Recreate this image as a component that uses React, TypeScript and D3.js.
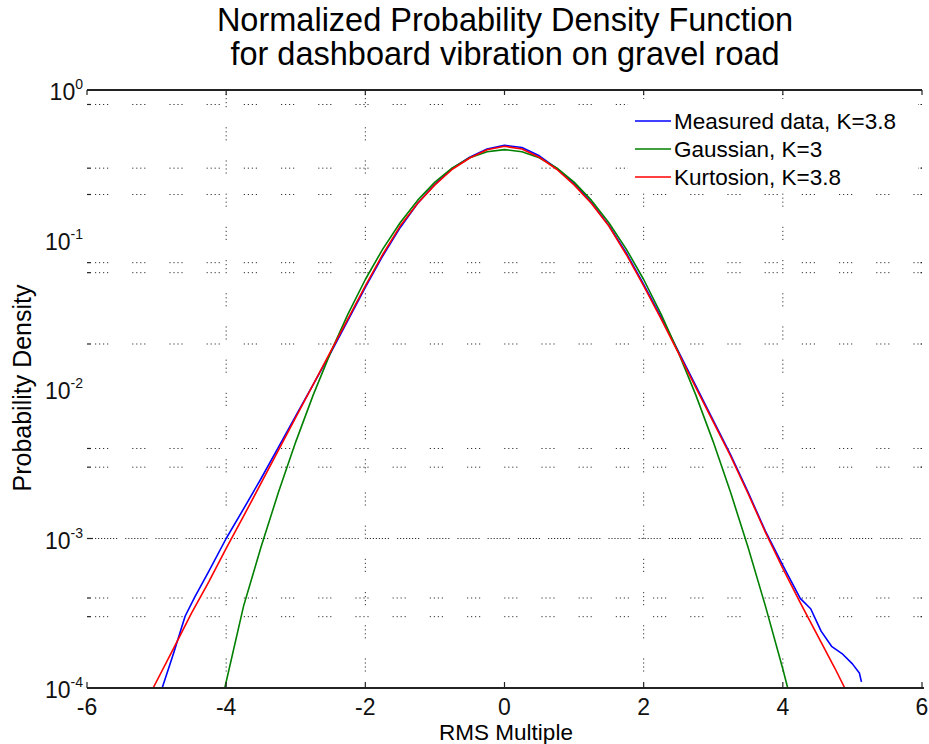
import React from 'react';
import * as d3 from 'd3';

const W = 929, H = 744;
const FONT = '"Liberation Sans", Arial, Helvetica, sans-serif';

const titleLines = ['Normalized Probability Density Function', 'for dashboard vibration on gravel road'];
const xLabel = 'RMS Multiple';
const yLabel = 'Probability Density';

const xTicks = [-6, -4, -2, 0, 2, 4, 6];
const yTickExps = [0, -1, -2, -3, -4];
const xGrid = [-4, -2, 2, 4];
const yGrid = [0.8, 0.3, 0.2, 0.07, 0.06, 0.02, 0.004, 0.003, 0.0004, 0.0003];
const yGridDense = [0.001];

const legendNames = ['Measured data, K=3.8', 'Gaussian, K=3', 'Kurtosion, K=3.8'];
const colors = ['#0000ff', '#008000', '#ff0000'];

const measuredX = [-4.92, -4.75, -4.59, -4.45, -4.25, -4.0, -3.75, -3.5, -3.25, -3.0, -2.75, -2.5, -2.25, -2.0, -1.75, -1.5, -1.25, -1.0, -0.75, -0.5, -0.25, 0, 0.25, 0.5, 0.75, 1.0, 1.25, 1.5, 1.75, 2.0, 2.25, 2.5, 2.75, 3.0, 3.25, 3.5, 3.75, 4.0, 4.25, 4.4, 4.55, 4.7, 4.85, 5.0, 5.1, 5.13];
const measuredY = [1.0e-4, 1.74e-4, 3.02e-4, 4.07e-4, 6.03e-4, 1.0e-3, 1.58e-3, 2.51e-3, 4.07e-3, 6.61e-3, 0.0107, 0.0174, 0.0288, 0.0479, 0.0776, 0.120, 0.174, 0.234, 0.299, 0.355, 0.403, 0.427, 0.412, 0.363, 0.299, 0.237, 0.176, 0.124, 0.0813, 0.0501, 0.0302, 0.0178, 0.0105, 6.17e-3, 3.63e-3, 2.04e-3, 1.12e-3, 6.6e-4, 3.98e-4, 3.39e-4, 2.4e-4, 1.9e-4, 1.7e-4, 1.45e-4, 1.26e-4, 1.1e-4];

const gaussX = [-4.02, -3.75, -3.5, -3.25, -3.0, -2.75, -2.5, -2.25, -2.0, -1.75, -1.5, -1.25, -1.0, -0.75, -0.5, -0.25, 0, 0.25, 0.5, 0.75, 1.0, 1.25, 1.5, 1.75, 2.0, 2.25, 2.5, 2.75, 3.0, 3.25, 3.5, 3.75, 4.0, 4.07];
const gaussY = [1.0e-4, 3.53e-4, 8.73e-4, 2.03e-3, 4.43e-3, 9.1e-3, 0.0175, 0.0317, 0.054, 0.0863, 0.1295, 0.1826, 0.242, 0.301, 0.352, 0.3867, 0.399, 0.3867, 0.352, 0.301, 0.242, 0.1826, 0.1295, 0.0863, 0.054, 0.0317, 0.0175, 9.1e-3, 4.43e-3, 2.03e-3, 8.73e-4, 3.53e-4, 1.34e-4, 1.0e-4];

const kurtX = [-5.05, -4.75, -4.5, -4.25, -4.0, -3.75, -3.5, -3.25, -3.0, -2.75, -2.5, -2.25, -2.0, -1.75, -1.5, -1.25, -1.0, -0.75, -0.5, -0.25, 0, 0.25, 0.5, 0.75, 1.0, 1.25, 1.5, 1.75, 2.0, 2.25, 2.5, 2.75, 3.0, 3.25, 3.5, 3.75, 4.0, 4.25, 4.5, 4.75, 4.89];
const kurtY = [1.0e-4, 1.86e-4, 3.16e-4, 5.13e-4, 8.6e-4, 1.41e-3, 2.34e-3, 3.89e-3, 6.46e-3, 0.0107, 0.0178, 0.0295, 0.049, 0.0794, 0.123, 0.174, 0.232, 0.295, 0.351, 0.398, 0.42, 0.403, 0.355, 0.295, 0.232, 0.174, 0.123, 0.0794, 0.049, 0.0295, 0.0174, 0.0102, 6.03e-3, 3.55e-3, 2.0e-3, 1.10e-3, 6.3e-4, 3.72e-4, 2.24e-4, 1.35e-4, 1.0e-4];

const seriesX = [measuredX, gaussX, kurtX];
const seriesY = [measuredY, gaussY, kurtY];

const L = 87, R = 922, T = 90, B = 688;

export default function App() {
  const x = d3.scaleLinear().domain([-6, 6]).range([L, R]);
  const y = d3.scaleLog().domain([1e-4, 1]).range([B, T]);
  const line = d3.line<[number, number]>().x(d => x(d[0])).y(d => y(d[1]));
  const hDash = '1.2,2.8,1.2,2.8,1.2,2.8,1.2,24';
  const hDense = '1.2,1.8,1.2,1.8,1.2,1.8,1.2,1.8,1.2,1.8,1.2,1.8,1.2,1.8,1.2,8';
  const vDash = '1.2,2.8,1.2,2.8,1.2,2.8,1.2,20';

  return (
    <svg width={W} height={H} style={{ position: 'absolute', left: 0, top: 0, background: '#fff' }} fontFamily={FONT}>
      <defs>
        <clipPath id="plot"><rect x={L} y={T - 2} width={R - L} height={B - T + 2} /></clipPath>
      </defs>
      <rect x={0} y={0} width={W} height={H} fill="#fff" />
      {yGrid.map((v, i) => (
        <g key={'hg' + i}>
          <line x1={L + 8} x2={R} y1={y(v)} y2={y(v)} stroke="#333" strokeWidth={1} strokeDasharray={hDash} />
          <line x1={L} x2={L + 4} y1={y(v)} y2={y(v)} stroke="#222" strokeWidth={1.2} />
          <line x1={R - 1.5} x2={R} y1={y(v)} y2={y(v)} stroke="#222" strokeWidth={1.2} />
        </g>
      ))}
      {yGridDense.map((v, i) => (
        <g key={'hd' + i}>
          <line x1={L + 8} x2={R} y1={y(v)} y2={y(v)} stroke="#333" strokeWidth={1} strokeDasharray={hDense} />
          <line x1={L} x2={L + 6} y1={y(v)} y2={y(v)} stroke="#222" strokeWidth={1.2} />
        </g>
      ))}
      {xGrid.map((v, i) => (
        <line key={'vg' + i} x1={x(v)} x2={x(v)} y1={T + 4} y2={B} stroke="#333" strokeWidth={1} strokeDasharray={vDash} />
      ))}
      <rect x={628} y={99} width={290} height={94} fill="#fff" />
      <g clipPath="url(#plot)">
        {seriesX.map((xs, si) => (
          <path key={'s' + si} d={line(xs.map((xv, j) => [xv, seriesY[si][j]] as [number, number])) || ''}
            fill="none" stroke={colors[si]} strokeWidth={1.6} strokeLinejoin="round" />
        ))}
      </g>
      <line x1={L} x2={R} y1={T} y2={T} stroke="#222" strokeWidth={2} />
      <line x1={L} x2={R + 2} y1={B} y2={B} stroke="#222" strokeWidth={2} />
      {xTicks.map((v, i) => (
        <g key={'xt' + i}>
          <line x1={x(v)} x2={x(v)} y1={T} y2={T + 5} stroke="#222" strokeWidth={1.2} />
          <line x1={x(v)} x2={x(v)} y1={B} y2={B - 6} stroke="#222" strokeWidth={1.2} />
          <text x={x(v)} y={B + 27} textAnchor="middle" fontSize={23} fill="#111">{v}</text>
        </g>
      ))}
      {yTickExps.map((e, i) => (
        <text key={'yt' + i} x={83} y={y(Math.pow(10, e)) + 10} textAnchor="end" fontSize={23} fill="#111">
          10<tspan dy={-11} fontSize={14}>{String(e)}</tspan>
        </text>
      ))}
      {titleLines.map((t, i) => (
        <text key={'t' + i} x={505} y={31 + i * 34} textAnchor="middle" fontSize={32.5} fill="#000">{t}</text>
      ))}
      <text x={506} y={740} textAnchor="middle" fontSize={22.5} fill="#000">{xLabel}</text>
      <text transform={`translate(31,388) rotate(-90)`} textAnchor="middle" fontSize={25} fill="#000">{yLabel}</text>
      {legendNames.map((n, i) => (
        <g key={'lg' + i}>
          <line x1={635} x2={671} y1={121 + i * 28} y2={121 + i * 28} stroke={colors[i]} strokeWidth={1.6} />
          <text x={674} y={129 + i * 28} fontSize={22.5} fill="#000">{n}</text>
        </g>
      ))}
    </svg>
  );
}
